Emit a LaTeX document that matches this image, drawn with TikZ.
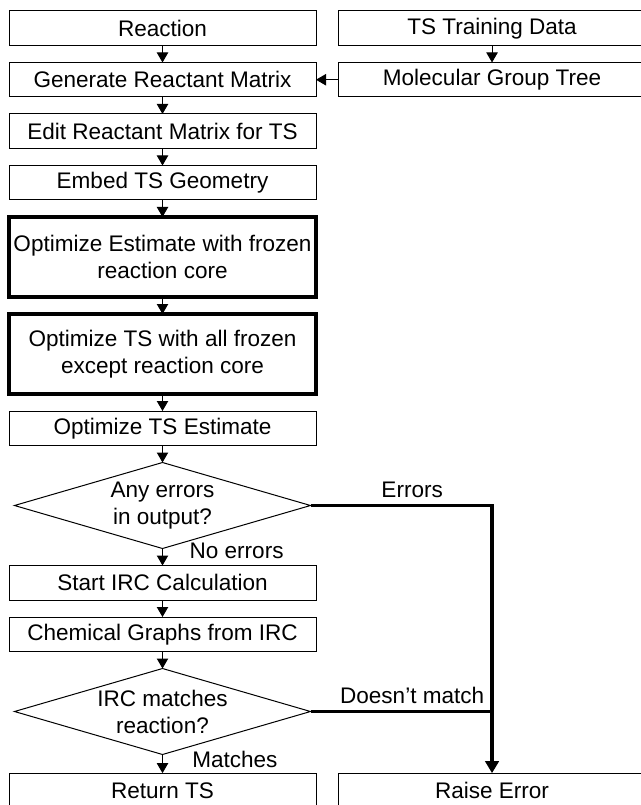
\documentclass[tikz,border=0pt]{standalone}
\usepackage{fontspec}
\setmainfont{Liberation Sans}
\usetikzlibrary{shapes.geometric, positioning, arrows.meta}
\tikzset{
x=0.75pt, y=-0.75pt, % one unit is one pixel of the sketch
>={Triangle[width=8.5pt, length=7.5pt]}, % small filled heads
node distance=12.75pt, % gap between two boxes of a column
every node/.style={font=\fontsize{16.9}{20.25}\selectfont}, % sets the text size of all nodes
box/.style={draw, line width=0.75pt, minimum width=230.25pt, minimum height=25.875pt, inner sep=0pt, outer sep=0pt, align=center}, % plain step
boldbox/.style={box, line width=2.4pt, minimum height=60pt}, % optimisation steps
decision/.style={draw, diamond, line width=0.75pt, minimum width=222pt, minimum height=64.5pt, aspect=3.44, inner sep=0pt, outer sep=0pt, align=center}, % questions
flow/.style={->, line width=0.75pt}, % arrows between the steps
fail/.style={line width=2.4pt}, % route to the error
tag/.style={inner sep=0pt}, % labels on the connectors
}
\begin{document}
\begin{tikzpicture}

            \useasboundingbox (0,0) rectangle (640,805);

            \node[box] (reaction) at (162.5,28.25) {Reaction};
            \node[box, right=16.9pt of reaction] (train) {TS Training Data};
            \node[box, below=of train] (tree) {Molecular Group Tree};
            \node[box, below=of reaction] (gen) {Generate Reactant Matrix};
            \node[box, below=of gen] (edit) {Edit Reactant Matrix for TS};
            \node[box, below=of edit] (embed) {Embed TS Geometry};
            \node[boldbox, below=of embed] (core) {Optimize Estimate with frozen\\reaction core};
            \node[boldbox, below=of core] (rest) {Optimize TS with all frozen\\except reaction core};
            \node[box, below=of rest] (optts) {Optimize TS Estimate};
            \node[decision, below=of optts] (errq) {Any errors\\in output?};
            \node[box, below=of errq] (irc) {Start IRC Calculation};
            \node[box, below=of irc] (graphs) {Chemical Graphs from IRC};
            \node[decision, below=of graphs] (matchq) {IRC matches\\reaction?};
            \node[box, below=14pt of matchq] (ret) {Return TS};
            \node[box, right=16.9pt of ret] (raise) {Raise Error};

            \draw[flow] (reaction) edge (gen)
                    (train) edge (tree)
                    (tree) edge (gen)
                    (gen) edge (edit)
                    (edit) edge (embed)
                    (embed) edge (core)
                    (core) edge (rest)
                    (rest) edge (optts)
                    (optts) edge (errq)
                    (errq) edge node[tag, anchor=west, xshift=20pt, yshift=4.5pt]{No errors} (irc)
                    (irc) edge (graphs)
                    (graphs) edge (matchq)
                    (matchq) edge node[tag, anchor=west, xshift=22pt, yshift=3.5pt]{Matches} (ret)
                    ;

            \draw[fail, -{Triangle[width=10pt, length=9pt]}] (errq.east) -| node[tag, pos=0.28, above=5pt]{Errors} (raise.north);
            \draw[fail] (matchq.east) -- node[tag, pos=0.56, above=5pt]{Doesn’t match} (matchq.east -| raise.north);
        \end{tikzpicture}
\end{document}
